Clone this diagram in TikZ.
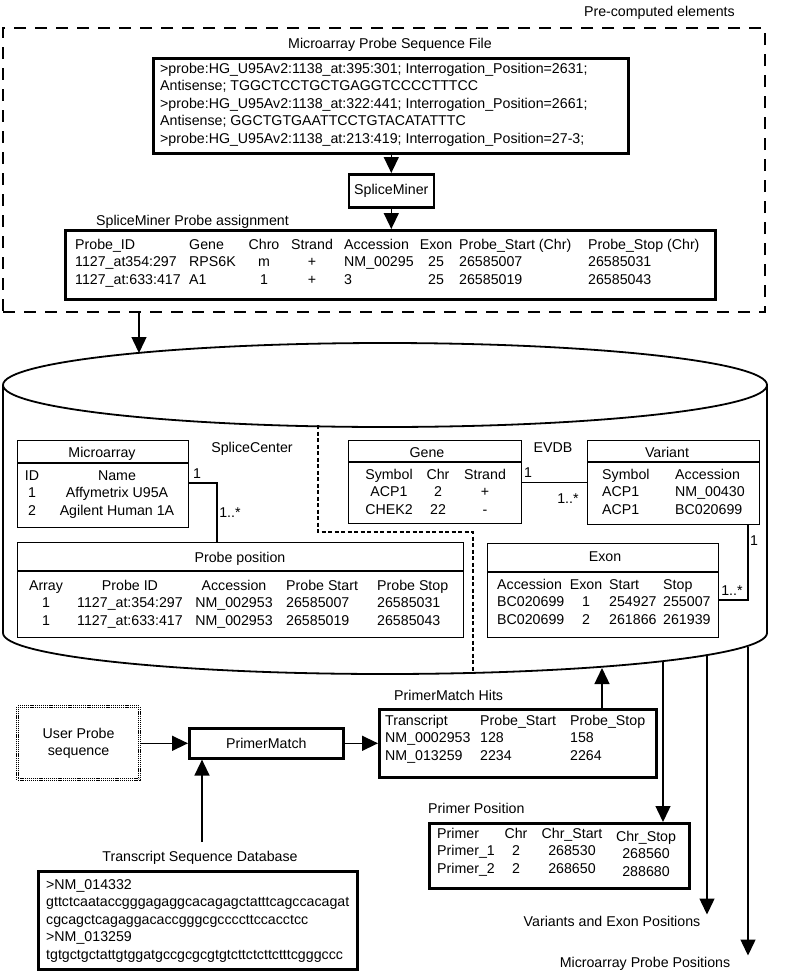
\documentclass[tikz,border=0pt]{standalone}
\usepackage{fontspec}
\setmainfont{Liberation Sans}
\usetikzlibrary{arrows.meta}
\newcommand{\tcol}[2]{\begin{tabular}[t]{@{}#1@{}}#2\end{tabular}}

\begin{document}
\begin{tikzpicture}[
    x=1pt, y=-1pt,
    font=\fontsize{14.2}{17.5}\selectfont,
    outbox/.style={draw, line width=2.6pt, anchor=north west, inner sep=0pt},
    tblbox/.style={draw, line width=1.3pt, anchor=north west, inner sep=0pt},
    precomp/.style={draw, line width=2.3pt, dash pattern=on 12pt off 9pt, anchor=north west, inner sep=0pt},
    userbox/.style={draw, line width=1.2pt, double, double distance=0.9pt, dash pattern=on 1.1pt off 0.8pt, anchor=north west, align=center},
    col/.style={anchor=base west, inner sep=0pt},
    ccol/.style={anchor=base, inner sep=0pt},
    lbl/.style={anchor=base, inner sep=1pt},
    arrow/.style={-{Triangle[width=15pt,length=16pt]}, line width=1.4pt},
    link/.style={line width=1.3pt},
    split/.style={line width=1.5pt, dash pattern=on 4pt off 2.5pt},
    cyl/.style={line width=1.8pt}
]
\useasboundingbox (0,0) rectangle (785,972);

% Pre-computed section
\node[precomp, minimum width=762pt, minimum height=284pt] (precomp) at (2,27) {};
\node[lbl, anchor=base east] (preclabel) at (736,16) {Pre-computed elements};
\node[lbl] (filelabel) at (390,48) {Microarray Probe Sequence File};

\node[outbox, minimum width=475pt, minimum height=95pt] (probefile) at (152,57) {};
\node[col] (filetext) at (160,73) {\tcol{l}{>probe:HG\_U95Av2:1138\_at:395:301; Interrogation\_Position=2631;\\
    Antisense; TGGCTCCTGCTGAGGTCCCCTTTCC\\
    >probe:HG\_U95Av2:1138\_at:322:441; Interrogation\_Position=2661;\\
    Antisense; GGCTGTGAATTCCTGTACATATTTC\\
    >probe:HG\_U95Av2:1138\_at:213:419; Interrogation\_Position=27-3;}};

\node[outbox, minimum width=85pt, minimum height=33pt] (miner) at (347.5,173) {SpliceMiner};

\node[lbl, anchor=base west] (asglabel) at (95,225) {SpliceMiner Probe assignment};
\node[outbox, minimum width=650pt, minimum height=69pt] (assign) at (64,229) {};
\node[col] (asgc1) at (75,249) {\tcol{l}{Probe\_ID\\1127\_at354:297\\1127\_at:633:417}};
\node[col] (asgc2) at (189,249) {\tcol{l}{Gene\\RPS6K\\A1}};
\node[ccol] (asgc3) at (264,249) {\tcol{c}{Chro\\m\\1}};
\node[ccol] (asgc4) at (312,249) {\tcol{c}{Strand\\+\\+}};
\node[col] (asgc5) at (344,249) {\tcol{l}{Accession\\NM\_00295\\3}};
\node[ccol] (asgc6) at (436,249) {\tcol{c}{Exon\\25\\25}};
\node[col] (asgc7) at (459,249) {\tcol{l}{Probe\_Start (Chr)\\26585007\\26585019}};
\node[col] (asgc8) at (588,249) {\tcol{l}{Probe\_Stop (Chr)\\26585031\\26585043}};

\draw[arrow] (probefile.south -| miner) -- (miner.north);
\draw[arrow] (miner.south) -- (miner.south |- assign.north);

% Database cylinder
\draw[cyl] (385,385) ellipse [x radius=382pt, y radius=42pt];
\draw[cyl] (3,385) -- (3,633) arc[start angle=180, end angle=360, x radius=382pt, y radius=41pt] -- (767,385);
\draw[split] (318,425) -- (318,532) -- (473,532) -- (473,673);

\coordinate (dbin) at (139,353);
\draw[arrow] (precomp.south -| dbin) -- (dbin);

\node[lbl] (sclabel) at (252,452) {SpliceCenter};
\node[lbl] (evdblabel) at (553,452) {EVDB};

% SpliceCenter tables
\node[tblbox, minimum width=171pt, minimum height=87pt] (micro) at (17,440) {};
\draw[link] ([yshift=-23pt]micro.north west) -- ([yshift=-23pt]micro.north east);
\node[lbl] (microhead) at (102,457) {Microarray};
\node[ccol] (microc1) at (32,480) {\tcol{c}{ID\\1\\2}};
\node[ccol] (microc2) at (117,480) {\tcol{c}{Name\\Affymetrix U95A\\Agilent Human 1A}};

\node[tblbox, minimum width=446pt, minimum height=95pt] (probepos) at (17,542) {};
\draw[link] ([yshift=-29pt]probepos.north west) -- ([yshift=-29pt]probepos.north east);
\node[lbl] (pphead) at (240,562) {Probe position};
\node[ccol] (ppc1) at (46,590) {\tcol{c}{Array\\1\\1}};
\node[ccol] (ppc2) at (130,590) {\tcol{c}{Probe ID\\1127\_at:354:297\\1127\_at:633:417}};
\node[ccol] (ppc3) at (234,590) {\tcol{c}{Accession\\NM\_002953\\NM\_002953}};
\node[col] (ppc4) at (286,590) {\tcol{l}{Probe Start\\26585007\\26585019}};
\node[col] (ppc5) at (377,590) {\tcol{l}{Probe Stop\\26585031\\26585043}};

\coordinate (mpjoint) at (217,483);
\draw[link] (micro.east |- mpjoint) -- (mpjoint) -- (mpjoint |- probepos.north);
\node[lbl] (m1a) at (197,478) {1};
\node[lbl] (m1b) at (230,517) {1..*};

% EVDB tables
\node[tblbox, minimum width=173pt, minimum height=83pt] (gene) at (348,440) {};
\draw[link] ([yshift=-22pt]gene.north west) -- ([yshift=-22pt]gene.north east);
\node[lbl] (genehead) at (427,457) {Gene};
\node[ccol] (genec1) at (389,479) {\tcol{c}{Symbol\\ACP1\\CHEK2}};
\node[ccol] (genec2) at (438,479) {\tcol{c}{Chr\\2\\22}};
\node[ccol] (genec3) at (485,479) {\tcol{c}{Strand\\+\\-}};

\node[tblbox, minimum width=172pt, minimum height=84pt] (variant) at (587,440) {};
\draw[link] ([yshift=-22pt]variant.north west) -- ([yshift=-22pt]variant.north east);
\node[lbl] (varhead) at (667,457) {Variant};
\node[col] (varc1) at (602,479) {\tcol{l}{Symbol\\ACP1\\ACP1}};
\node[col] (varc2) at (675,479) {\tcol{l}{Accession\\NM\_00430\\BC020699}};

\node[tblbox, minimum width=231pt, minimum height=94pt] (exon) at (487,543) {};
\draw[link] ([yshift=-29pt]exon.north west) -- ([yshift=-29pt]exon.north east);
\node[lbl] (exonhead) at (605,561) {Exon};
\node[col] (exonc1) at (497,589) {\tcol{l}{Accession\\BC020699\\BC020699}};
\node[ccol] (exonc2) at (586,589) {\tcol{c}{Exon\\1\\2}};
\node[col] (exonc3) at (609,589) {\tcol{l}{Start\\254927\\261866}};
\node[col] (exonc4) at (663,589) {\tcol{l}{Stop\\255007\\261939}};

\draw[link] (gene.east) -- (gene.east -| variant.west);
\node[lbl] (g1a) at (528,477) {1};
\node[lbl] (g1b) at (568,503) {1..*};

\coordinate (vejoint) at (748,600);
\draw[link] (vejoint |- variant.south) -- (vejoint) -- (vejoint -| exon.east);
\node[lbl] (v1a) at (754,545) {1};
\node[lbl] (v1b) at (732,595) {1..*};

% PrimerMatch
\node[userbox, minimum width=122pt, minimum height=73pt] (userprobe) at (17,706) {User Probe\\sequence};
\node[outbox, minimum width=154pt, minimum height=30pt] (pmatch) at (188,727) {PrimerMatch};

\node[lbl, anchor=base west] (hitslabel) at (393,700) {PrimerMatch Hits};
\node[outbox, minimum width=277pt, minimum height=68pt] (hits) at (378,708) {};
\node[col] (hitsc1) at (385,725) {\tcol{l}{Transcript\\NM\_0002953\\NM\_013259}};
\node[col] (hitsc2) at (480,725) {\tcol{l}{Probe\_Start\\128\\2234}};
\node[col] (hitsc3) at (570,725) {\tcol{l}{Probe\_Stop\\158\\2264}};

\node[lbl, anchor=base west] (pplabel) at (427,813) {Primer Position};
\node[outbox, minimum width=260pt, minimum height=65pt] (primerpos) at (428,822) {};
\node[col] (primc1) at (437,838) {\tcol{l}{Primer\\Primer\_1\\Primer\_2}};
\node[ccol] (primc2) at (516,838) {\tcol{c}{Chr\\2\\2}};
\node[ccol] (primc3) at (572,838) {\tcol{c}{Chr\_Start\\268530\\268650}};
\node[ccol] (primc4) at (646,841) {\tcol{c}{Chr\_Stop\\268560\\288680}};

\node[lbl] (tsdlabel) at (200,861) {Transcript Sequence Database};
\node[outbox, minimum width=319pt, minimum height=98pt] (tsdb) at (37,870) {};
\node[col] (tsdtext) at (46,889) {\tcol{l}{>NM\_014332\\
    gttctcaataccgggagaggcacagagctatttcagccacagat\\
    cgcagctcagaggacaccgggcgccccttccacctcc\\
    >NM\_013259\\
    tgtgctgctattgtggatgccgcgcgtgtcttctcttctttcgggccc}};

\node[lbl] (velabel) at (612,926) {Variants and Exon Positions};
\node[lbl] (mplabel) at (645,967) {Microarray Probe Positions};

% Connections
\draw[arrow] (userprobe.east |- pmatch.west) -- (pmatch.west);
\draw[arrow] (pmatch.east) -- (pmatch.east -| hits.west);
\coordinate (tsdout) at (202,842);
\draw[arrow] (tsdout) -- (tsdout |- pmatch.south);
\coordinate (hitsin) at (602,668);
\draw[arrow] (hitsin |- hits.north) -- (hitsin);
\coordinate (ppout) at (663,661);
\draw[arrow] (ppout) -- (ppout |- primerpos.north);
\coordinate (veout) at (707,655);
\draw[arrow] (veout) -- (veout |- velabel.north);
\coordinate (mpout) at (748,647);
\draw[arrow] (mpout) -- (mpout |- mplabel.north);

\end{tikzpicture}
\end{document}
